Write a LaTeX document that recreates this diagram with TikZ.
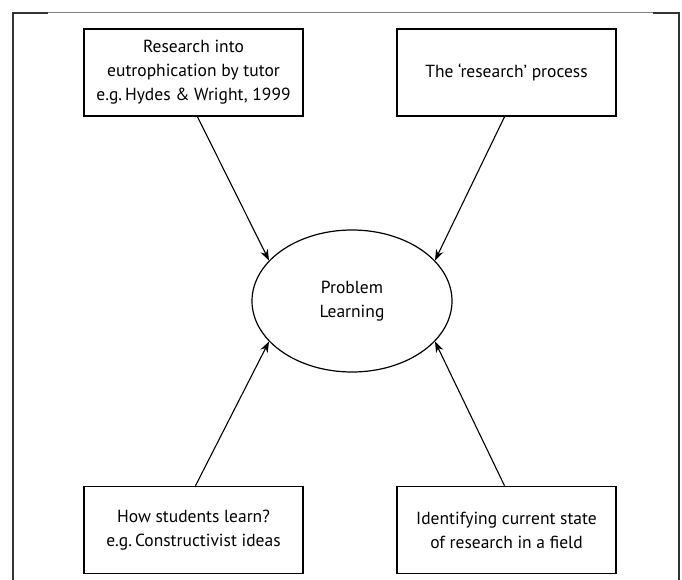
\documentclass[tikz,border=0pt]{standalone}
\usepackage{fontspec}
\setmainfont{PT Sans}
\usetikzlibrary{arrows.meta,shapes.geometric}
\begin{document}
\begin{tikzpicture}[x=1pt,y=-1pt,
  box/.style={draw=black,line width=1.6pt,minimum width=219pt,minimum height=87pt,inner sep=0pt,align=center,font=\fontsize{17.5}{24}\selectfont},
  oval/.style={draw=black,line width=1.2pt,ellipse,minimum width=200pt,minimum height=142pt,inner sep=0pt,align=center,font=\fontsize{17.5}{24}\selectfont},
  conn/.style={line width=1.1pt,-{Stealth[length=11pt,width=8pt]}},
  frame/.style={line width=1pt}]
\useasboundingbox (0,0) rectangle (682,580);
\draw[frame,gray] (13,13) -- (679,13);
\draw[frame,line width=1.4pt,black!80] (48,13) -- (13,13) -- (13,580);
\draw[frame,line width=1.4pt,black!80] (653,13) -- (679,13) -- (679,580);
\node[box] (tl) at (193.5,72.5) {Research into\\eutrophication by tutor\\e.g.\,Hydes \& Wright, 1999};
\node[box] (tr) at (506.5,72.5) {The `research' process};
\node[box] (bl) at (193.5,530) {How students learn?\\e.g.\,Constructivist ideas};
\node[box] (br) at (506.5,530) {Identifying current state\\of research in a field};
\node[oval] (e) at (352,301) {Problem\\Learning};
\draw[conn] ([xshift=4pt]tl.south) -- (e.154);
\draw[conn] ([xshift=-2pt]tr.south) -- (e.26);
\draw[conn] ([xshift=2pt]bl.north) -- (e.206);
\draw[conn] ([xshift=-2pt]br.north) -- (e.334);
\end{tikzpicture}
\end{document}
